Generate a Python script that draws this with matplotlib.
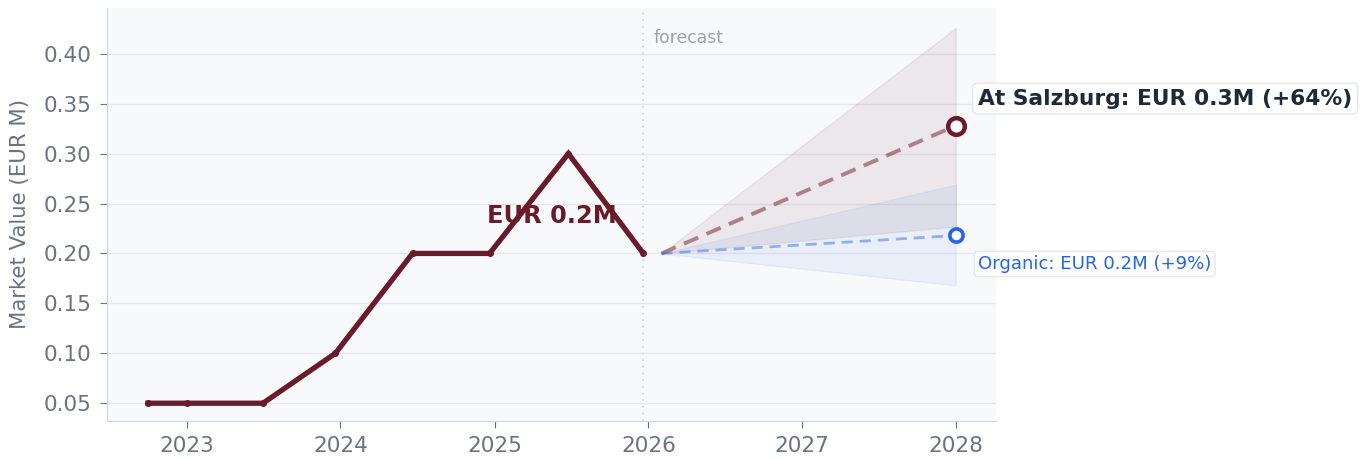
import numpy as np
import pandas as pd
import matplotlib
matplotlib.use("Agg")
import matplotlib.pyplot as plt
import matplotlib.dates as mdates

# history
hist_dates = pd.to_datetime([
    "2022-10-01", "2023-01-01", "2023-07-01", "2023-12-20",
    "2024-06-20", "2024-12-20", "2025-06-25", "2025-12-20",
])
hist_values = [0.05, 0.05, 0.05, 0.10, 0.20, 0.20, 0.30, 0.20]

# forecast
fc_dates = pd.to_datetime(["2026-02-01", "2028-01-01"])
salz_values = [0.20, 0.328]
salz_low = [0.20, 0.227]
salz_high = [0.20, 0.426]
org_values = [0.20, 0.218]
org_low = [0.20, 0.168]
org_high = [0.20, 0.269]

MAROON = "#6b1a2a"
BLUE = "#2563eb"
GRAY = "#6b7280"

plt.rcParams.update({"font.family": "DejaVu Sans"})

fig = plt.figure(figsize=(13.68, 4.59), dpi=100)
ax = fig.add_axes([0.078, 0.083, 0.650, 0.900])
ax.set_facecolor("#f8f9fb")

# bands
ax.fill_between(fc_dates, salz_low, salz_high, color=MAROON, alpha=0.08, lw=1)
ax.fill_between(fc_dates, org_low, org_high, color=BLUE, alpha=0.07, lw=1)

# history line
ax.plot(hist_dates, hist_values, color=MAROON, lw=3.8, marker="o", ms=4,
        solid_joinstyle="miter", zorder=4)

# forecast lines
ax.plot(fc_dates, salz_values, color=MAROON, alpha=0.5, lw=2.8, ls=(0, (4, 2.3)), zorder=3)
ax.plot(fc_dates, org_values, color=BLUE, alpha=0.45, lw=2.0, ls=(0, (4, 2.5)), zorder=3)
ax.plot(fc_dates[-1], salz_values[-1], marker="o", ms=12, mfc="white", mec=MAROON, mew=3.2, zorder=5)
ax.plot(fc_dates[-1], org_values[-1], marker="o", ms=9.5, mfc="white", mec=BLUE, mew=2.6, zorder=5)

# forecast divider
ax.axvline(hist_dates[-1], color="#d1d5db", lw=1.2, ls=(0, (1, 3)), zorder=1)
ax.text(hist_dates[-1] + pd.Timedelta(days=25), 0.416, "forecast", color="#9ca3af",
        fontsize=12.4, va="center", ha="left")

# labels
ax.text(pd.Timestamp("2025-05-18"), 0.238, "EUR 0.2M", color=MAROON, fontsize=17.3,
        fontweight="bold", ha="center", va="center", zorder=6)
ax.annotate("At Salzburg: EUR 0.3M (+64%)", xy=(fc_dates[-1], salz_values[-1]),
            xytext=(16, 19.5), textcoords="offset points", ha="left", va="center",
            fontsize=15.7, fontweight="bold", color="#1f2937",
            bbox=dict(boxstyle="round,pad=0.25", fc="white", ec="#e5e7eb", lw=1))
ax.annotate("Organic: EUR 0.2M (+9%)", xy=(fc_dates[-1], org_values[-1]),
            xytext=(16, -20.5), textcoords="offset points", ha="left", va="center",
            fontsize=13.1, color=BLUE,
            bbox=dict(boxstyle="round,pad=0.2", fc="white", ec="#e5e7eb", lw=1))

# axes formatting
ax.set_xlim(pd.Timestamp("2022-06-25"), pd.Timestamp("2028-04-05"))
ax.set_ylim(0.0323, 0.446)
ax.set_yticks(np.arange(0.05, 0.401, 0.05))
ax.yaxis.set_major_formatter(plt.FormatStrFormatter("%.2f"))
ax.xaxis.set_major_locator(mdates.YearLocator())
ax.xaxis.set_major_formatter(mdates.DateFormatter("%Y"))
ax.grid(axis="y", color="#e5e7eb", lw=1)
ax.set_axisbelow(True)
for side in ["top", "right"]:
    ax.spines[side].set_visible(False)
for side in ["left", "bottom"]:
    ax.spines[side].set_color("#d1d5db")
ax.tick_params(colors=GRAY, labelsize=15.5, length=5, pad=6)
ax.set_ylabel("Market Value (EUR M)", color=GRAY, fontsize=15.3, labelpad=9.5)

fig.savefig("out.png", dpi=100, facecolor="white")
